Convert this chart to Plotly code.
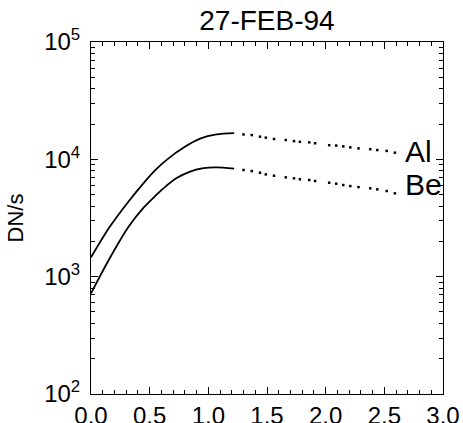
import plotly.graph_objects as go

# ---- data ----
x_solid = [0.0, 0.15, 0.32, 0.45, 0.55, 0.65, 0.79, 0.93, 1.07, 1.22]
al_solid = [1460, 2570, 4370, 6310, 8130, 10000, 12600, 15000, 16300, 16700]
x_solid_be = [0.0, 0.15, 0.32, 0.45, 0.55, 0.62, 0.73, 0.85, 0.96, 1.07, 1.22]
be_solid = [720, 1380, 2660, 3890, 4900, 5690, 6920, 7900, 8430, 8550, 8320]

x_dot = [1.30, 1.37, 1.44, 1.49, 1.56, 1.66, 1.73, 1.78, 1.86, 1.91,
         2.03, 2.09, 2.15, 2.21, 2.28, 2.38, 2.44, 2.52, 2.59]
al_dot = [16300, 16100, 15600, 15300, 14900, 14600, 14300, 14100, 13950, 13700,
          13200, 13100, 12900, 12650, 12400, 12200, 12000, 11800, 11400]
be_dot = [8110, 7940, 7690, 7440, 7250, 7020, 6890, 6760, 6670, 6540,
          6320, 6200, 6040, 5920, 5800, 5660, 5550, 5370, 5130]

x_ticks = [0.0, 0.5, 1.0, 1.5, 2.0, 2.5, 3.0]
x_ticktext = ["0.0", "0.5", "1.0", "1.5", "2.0", "2.5", "3.0"]
y_ticks = [1e2, 1e3, 1e4, 1e5]
y_ticktext = ["10<sup>2</sup>", "10<sup>3</sup>", "10<sup>4</sup>", "10<sup>5</sup>"]
y_minor = [m * 10 ** e for e in (2, 3, 4) for m in range(2, 10)]

title_text = "27-FEB-94"
y_title = "DN/s"
labels = ["Al", "Be"]

FONT = "Liberation Sans, Arial, sans-serif"

fig = go.Figure()
fig.add_trace(go.Scatter(x=x_solid, y=al_solid, mode="lines",
                         line=dict(color="black", width=1.8, shape="spline", smoothing=0.8),
                         showlegend=False))
fig.add_trace(go.Scatter(x=x_solid_be, y=be_solid, mode="lines",
                         line=dict(color="black", width=1.8, shape="spline", smoothing=0.8),
                         showlegend=False))
fig.add_trace(go.Scatter(x=x_dot, y=al_dot, mode="markers",
                         marker=dict(color="black", size=2.5, symbol="square"),
                         showlegend=False))
fig.add_trace(go.Scatter(x=x_dot, y=be_dot, mode="markers",
                         marker=dict(color="black", size=2.5, symbol="square"),
                         showlegend=False))

fig.add_annotation(x=2.66, y=4.071, text=labels[0], showarrow=False,
                   xanchor="left", yanchor="middle",
                   font=dict(family=FONT, size=30, color="black"))
fig.add_annotation(x=2.66, y=3.789, text=labels[1], showarrow=False,
                   xanchor="left", yanchor="middle",
                   font=dict(family=FONT, size=30, color="black"))

axis_common = dict(showline=True, linecolor="black", linewidth=1, mirror="allticks",
                   ticks="inside", ticklen=7, tickcolor="black", tickwidth=1,
                   showgrid=False, zeroline=False, automargin=False,
                   tickfont=dict(family=FONT, size=24, color="black"))

fig.update_xaxes(range=[0, 3], tickvals=x_ticks, ticktext=x_ticktext,
                 ticklabelstandoff=0,
                 minor=dict(ticks="inside", ticklen=4, dtick=0.1, tickcolor="black",
                            showgrid=False),
                 **axis_common)
fig.update_yaxes(type="log", range=[2, 5], tickvals=y_ticks, ticktext=y_ticktext,
                 ticklabelstandoff=5,
                 minor=dict(ticks="inside", ticklen=4, tickvals=y_minor, tickcolor="black",
                            showgrid=False),
                 title=dict(text=y_title, font=dict(family=FONT, size=22, color="black"),
                            standoff=14),
                 **axis_common)

fig.update_layout(
    template="none",
    width=463, height=423,
    margin=dict(l=91, r=20, t=42, b=29),
    paper_bgcolor="white", plot_bgcolor="white",
    title=dict(text=title_text, x=0.5, xanchor="center", xref="paper",
               y=1 - 20 / 423, yanchor="middle",
               font=dict(family=FONT, size=28, color="black")),
)

fig.write_html("out.html")
